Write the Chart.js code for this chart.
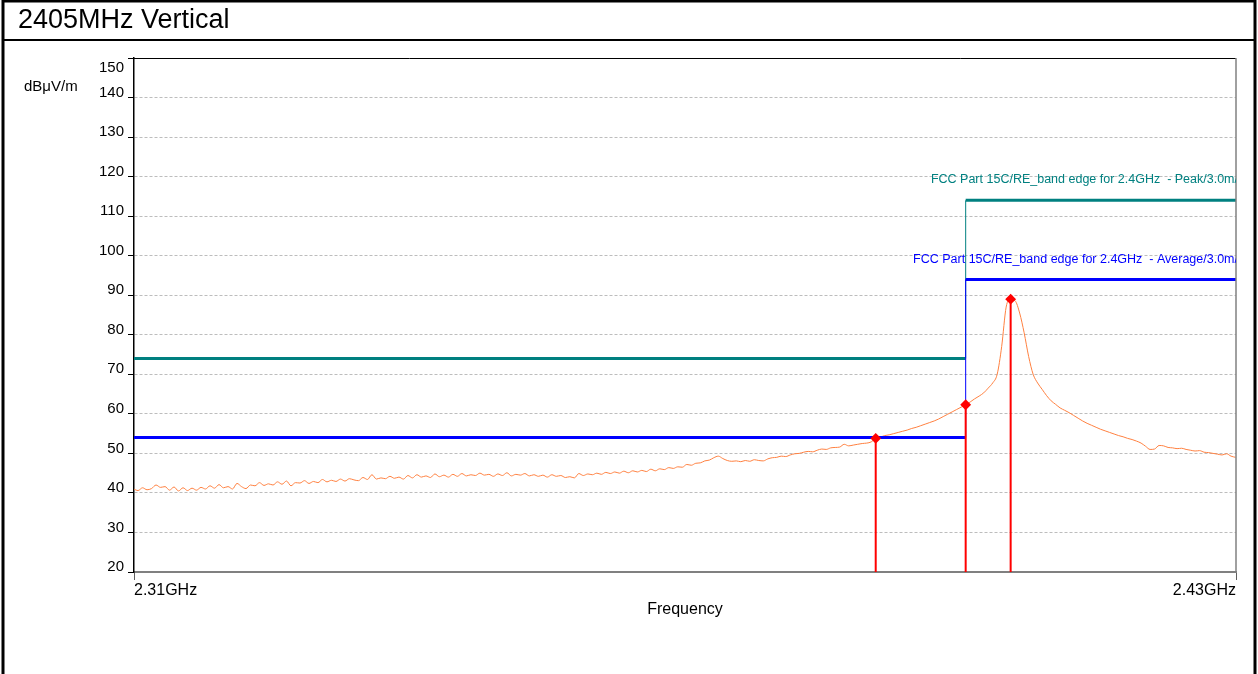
<!DOCTYPE html>
<html>
<head>
<meta charset="utf-8">
<title>2405MHz Vertical</title>
<script src="https://cdn.jsdelivr.net/npm/chart.js@4.4.1/dist/chart.umd.min.js"></script>
<style>
  html, body { margin: 0; padding: 0; background: #fff; }
  #wrap { position: relative; width: 1258px; height: 674px; }
</style>
</head>
<body>
<div id="wrap"><canvas id="c" width="1258" height="674"></canvas></div>
<script>
// sweep: 2307.5 .. 2430 MHz, one reading every 0.5 MHz (dBuV/m)
const sweepStart = 2307.5;
const sweepStep = 0.5;
const traceLevel = [
  41.0, 40.6, 41.3, 40.8, 41.1, 42.0, 41.4, 41.6, 40.7, 41.5,
  40.5, 41.3, 40.6, 41.2, 40.7, 41.4, 41.0, 41.8, 41.2, 42.1,
  41.3, 41.6, 41.0, 42.4, 41.6, 41.1, 42.0, 41.8, 42.6, 41.9,
  42.3, 42.0, 42.8, 42.2, 43.0, 41.8, 42.6, 42.5, 43.1, 42.4,
  42.9, 42.6, 43.4, 42.8, 43.2, 42.9, 43.5, 43.0, 43.6, 43.3,
  43.1, 43.9, 43.4, 44.6, 43.5, 43.8, 43.6, 44.2, 43.7, 44.0,
  43.5, 44.4, 43.8, 44.6, 44.0, 44.3, 43.9, 44.8, 44.1, 44.5,
  44.0, 44.7, 44.2, 44.9, 44.3, 44.6, 44.4, 45.0, 44.5, 44.7,
  44.2, 44.8, 44.4, 45.1, 44.3, 44.7, 44.5, 44.9, 44.3, 44.6,
  44.2, 44.5, 44.0, 44.6, 44.2, 44.4, 43.9, 44.1, 43.8, 44.9,
  44.4, 44.8, 44.6, 45.0, 44.7, 45.2, 44.9, 45.3, 45.0, 45.5,
  45.1, 45.6, 45.3, 45.7, 45.4, 46.0, 45.6, 46.1, 45.9, 46.4,
  46.2, 46.6, 46.5, 47.2, 47.0, 47.5, 47.6, 48.1, 48.3, 48.9,
  49.3, 48.7, 48.2, 48.0, 48.1, 47.9, 48.2, 48.0, 48.4, 48.2,
  48.1, 48.6, 48.9, 49.0, 49.3, 49.2, 49.6, 49.9, 50.0, 50.3,
  50.5, 50.4, 50.8, 51.1, 51.0, 51.4, 51.5, 51.6, 52.3, 51.9,
  52.1, 52.3, 52.5, 52.6, 52.9, 53.8, 54.1, 54.5, 54.7, 55.0,
  55.3, 55.6, 55.9, 56.3, 56.6, 57.0, 57.4, 57.8, 58.2, 58.7,
  59.3, 59.9, 60.5, 61.1, 61.7, 62.3, 63.0, 63.8, 64.5, 65.3,
  66.5, 67.8, 70.0, 77.0, 87.0, 89.0, 88.6, 85.5, 80.5, 74.5,
  70.0, 67.8, 66.2, 64.6, 63.3, 62.4, 61.5, 60.9, 60.3, 59.6,
  58.9, 58.2, 57.6, 57.1, 56.6, 56.1, 55.7, 55.3, 54.9, 54.5,
  54.2, 53.8, 53.5, 53.1, 52.6, 51.8, 51.0, 51.1, 52.0, 51.9,
  51.5, 51.4, 51.2, 51.3, 51.0, 50.8, 50.6, 50.7, 50.3, 50.2,
  50.0, 49.8, 49.6, 49.9, 49.3, 49.0
];

const xRange = [2307.55, 2430.05];        // MHz at left / right edge
const xTickLabels = ['2.31GHz', '2.43GHz'];
const yMin = 20, yMax = 150, yStep = 10;

// limit lines: level below / above the band edge
const bandEdge = 2400;
const peakLimit = [74, 114];
const avgLimit = [54, 94];
const peakLabel = 'FCC Part 15C/RE_band edge for 2.4GHz  - Peak/3.0m/';
const avgLabel = 'FCC Part 15C/RE_band edge for 2.4GHz  - Average/3.0m/';

// markers
const markerFreq = [2390, 2400, 2405];
const markerLevel = [53.8, 62.3, 89.0];

const FONT = 'Arial, "Liberation Sans", sans-serif';
const TEAL = '#008080';
const BLUE = '#0000ff';

const trace = traceLevel.map((v, i) => ({ x: sweepStart + i * sweepStep, y: v }));

function limitSets(lv, color) {
  return [
    { data: [{ x: xRange[0], y: lv[0] }, { x: bandEdge, y: lv[0] }], borderColor: color, borderWidth: 3 },
    { data: [{ x: bandEdge, y: lv[1] }, { x: xRange[1], y: lv[1] }], borderColor: color, borderWidth: 3 },
    { data: [{ x: bandEdge, y: lv[0] }, { x: bandEdge, y: lv[1] }], borderColor: color, borderWidth: 1 }
  ];
}

const markerSets = markerFreq.map((f, i) => ({
  data: [{ x: f, y: yMin }, { x: f, y: markerLevel[i] }],
  borderColor: '#ff0000',
  borderWidth: 2,
  pointStyle: 'rectRot',
  pointRadius: ctx => ctx.dataIndex === 1 ? 4 : 0,
  pointBackgroundColor: '#ff0000',
  pointBorderColor: '#ff0000'
}));

const datasets = [].concat(
  markerSets,
  limitSets(avgLimit, BLUE),
  limitSets(peakLimit, TEAL),
  [{ data: trace, borderColor: '#ff8040', borderWidth: 1, cubicInterpolationMode: 'monotone' }]
);

const frame = {
  id: 'frame',
  afterDraw(chart) {
    const ctx = chart.ctx;
    const a = chart.chartArea;
    const y = chart.scales.y;
    ctx.save();

    // outer box + title row
    ctx.strokeStyle = '#000';
    ctx.lineWidth = 3;
    ctx.strokeRect(3, 1, 1252, 690);
    ctx.lineWidth = 2;
    ctx.beginPath(); ctx.moveTo(3, 40); ctx.lineTo(1256, 40); ctx.stroke();
    ctx.fillStyle = '#000';
    ctx.font = '27px ' + FONT;
    ctx.textBaseline = 'middle';
    ctx.textAlign = 'left';
    ctx.fillText('2405MHz Vertical', 18, 21);

    // plot frame top / right
    ctx.lineWidth = 1;
    ctx.strokeStyle = '#000';
    ctx.beginPath(); ctx.moveTo(a.left, a.top + 0.5); ctx.lineTo(a.right, a.top + 0.5); ctx.stroke();
    ctx.strokeStyle = '#808080';
    ctx.lineWidth = 1.5;
    ctx.beginPath(); ctx.moveTo(a.right, a.top); ctx.lineTo(a.right, a.bottom); ctx.stroke();

    // axis texts
    ctx.fillStyle = '#000';
    ctx.font = '15px ' + FONT;
    ctx.fillText('dBμV/m', 24, 87);
    ctx.font = '16px ' + FONT;
    ctx.textAlign = 'center';
    ctx.fillText('Frequency', (a.left + a.right) / 2, 610);

    // limit captions, clipped at the plot edge
    ctx.beginPath();
    ctx.rect(a.left, a.top, a.right - a.left, a.bottom - a.top);
    ctx.clip();
    ctx.font = '12.5px ' + FONT;
    ctx.textAlign = 'right';
    ctx.fillStyle = TEAL;
    ctx.fillText(peakLabel, a.right + 2, y.getPixelForValue(peakLimit[1]) - 21);
    ctx.fillStyle = BLUE;
    ctx.fillText(avgLabel, a.right + 2, y.getPixelForValue(avgLimit[1]) - 20);
    ctx.restore();
  }
};

new Chart(document.getElementById('c'), {
  type: 'line',
  data: { datasets: datasets },
  options: {
    responsive: false,
    animation: false,
    events: [],
    layout: { padding: { top: 58, right: 22, left: 0, bottom: 0 } },
    elements: {
      point: { radius: 0 },
      line: { tension: 0, fill: false }
    },
    plugins: {
      legend: { display: false },
      tooltip: { enabled: false }
    },
    scales: {
      x: {
        type: 'linear',
        min: xRange[0],
        max: xRange[1],
        afterFit: s => { s.height = 102; },
        afterBuildTicks: s => { s.ticks = xRange.map(v => ({ value: v })); },
        grid: { drawOnChartArea: false, drawTicks: true, tickLength: 8, tickColor: '#606060' },
        border: { display: true, color: '#808080', width: 2 },
        ticks: {
          autoSkip: false,
          maxRotation: 0,
          align: 'inner',
          padding: 1,
          color: '#000',
          font: { family: FONT, size: 16 },
          callback: (v, i) => xTickLabels[i]
        }
      },
      y: {
        min: yMin,
        max: yMax,
        afterFit: s => { s.width = 134; },
        grid: { color: '#bdbdbd', lineWidth: 1, tickLength: 6, tickColor: '#000' },
        border: { display: true, color: '#000', width: 1.5, dash: [3, 2] },
        ticks: {
          stepSize: yStep,
          padding: 4,
          color: '#000',
          font: { family: FONT, size: 15, lineHeight: '10px' },
          callback: v => v === yMax ? ['', '', String(v)] : [String(v), '']
        }
      }
    }
  },
  plugins: [frame]
});
</script>
</body>
</html>
